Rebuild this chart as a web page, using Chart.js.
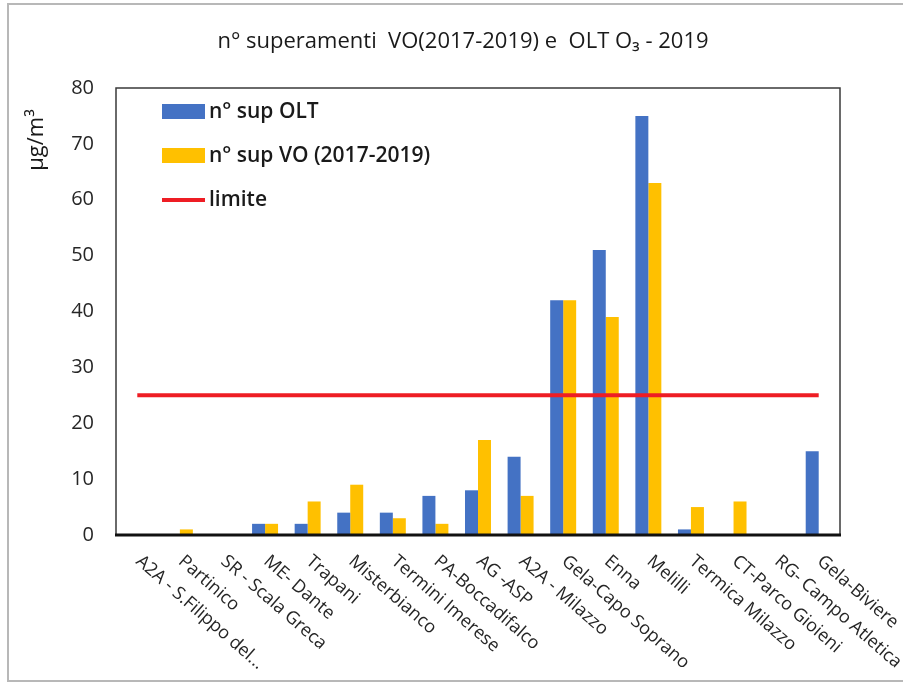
<!DOCTYPE html>
<html>
<head>
<meta charset="utf-8">
<title>n° superamenti O3 2019</title>
<script src="https://cdn.jsdelivr.net/npm/chart.js@4.4.1/dist/chart.umd.min.js"></script>
<style>
  body { margin: 0; background: #fff; }
  #wrap { position: relative; width: 903px; height: 686px; overflow: hidden; }
  #frame { position: absolute; left: 7px; top: 3px; width: 930px; height: 679px;
           border: 2px solid #b8b8b8; box-sizing: border-box; }
  canvas { position: absolute; left: 0; top: 0; }
</style>
</head>
<body>
<div id="wrap">
  <div id="frame"></div>
  <canvas id="chart" width="903" height="686"></canvas>
</div>
<script>
// stazioni e numero di superamenti
const stations = [
  'A2A - S.Filippo del...', 'Partinico', 'SR - Scala Greca', 'ME- Dante', 'Trapani',
  'Misterbianco', 'Termini Imerese', 'PA-Boccadifalco', 'AG -ASP', 'A2A - Milazzo',
  'Gela-Capo Soprano', 'Enna', 'Melilli', 'Termica Milazzo', 'CT-Parco Gioieni',
  'RG- Campo Atletica', 'Gela-Biviere'
];
const supOLT = [0, 0, 0, 2, 2, 4, 4, 7, 8, 14, 42, 51, 75, 1, 0, 0, 15];
const supVO  = [0, 1, 0, 2, 6, 9, 3, 2, 17, 7, 42, 39, 63, 5, 6, 0, 0];
const limite = [25, 25, 25, 25, 25, 25, 25, 25, 25, 25, 25, 25, 25, 25, 25, 25, 25];
const yMin = 0, yMax = 80, yStep = 10;

const chartTitle = 'n° superamenti  VO(2017-2019) e  OLT O₃ - 2019';
const yTitle = 'µg/m³';

const BLUE = '#4472C4';
const YELLOW = '#FFC000';
const RED = '#EE1D24';
const FONT = "'Open Sans', sans-serif";

// titolo, legenda, cornice e etichette ruotate disegnate a mano
const decorations = {
  id: 'decorations',
  afterDraw(chart) {
    const ctx = chart.ctx;
    const a = chart.chartArea;
    const x = chart.scales.x;
    ctx.save();

    // cornice area del grafico
    ctx.strokeStyle = '#3a3a3a';
    ctx.lineWidth = 1.5;
    ctx.beginPath();
    ctx.moveTo(a.left, a.bottom);
    ctx.lineTo(a.left, a.top);
    ctx.lineTo(a.right, a.top);
    ctx.lineTo(a.right, a.bottom);
    ctx.stroke();
    ctx.strokeStyle = '#111';
    ctx.lineWidth = 3;
    ctx.beginPath();
    ctx.moveTo(a.left - 1, a.bottom);
    ctx.lineTo(a.right + 1, a.bottom);
    ctx.stroke();

    // titolo
    ctx.fillStyle = '#1a1a1a';
    ctx.font = '22px ' + FONT;
    ctx.textAlign = 'center';
    ctx.textBaseline = 'middle';
    ctx.fillText(chartTitle, 463, 42);

    // titolo asse y
    ctx.save();
    ctx.translate(37, 140);
    ctx.rotate(-Math.PI / 2);
    ctx.font = '22px ' + FONT;
    ctx.fillText(yTitle, 0, 0);
    ctx.restore();

    // legenda
    ctx.font = '600 21px ' + FONT;
    ctx.textAlign = 'left';
    chart.data.datasets.forEach(ds => {
      const cy = 112 + ds.legendIndex * 44;
      if (ds.type === 'line') {
        ctx.strokeStyle = ds.borderColor;
        ctx.lineWidth = 4;
        ctx.beginPath();
        ctx.moveTo(162, cy);
        ctx.lineTo(205, cy);
        ctx.stroke();
      } else {
        ctx.fillStyle = ds.backgroundColor;
        ctx.fillRect(162, cy - 8, 43, 15);
      }
      ctx.fillStyle = '#1a1a1a';
      ctx.fillText(ds.label, 209, cy);
    });

    // etichette categorie ruotate
    ctx.font = '18px ' + FONT;
    ctx.fillStyle = '#262626';
    ctx.textBaseline = 'middle';
    chart.data.labels.forEach((lab, i) => {
      const px = x.getPixelForValue(i);
      ctx.save();
      ctx.translate(px + 1, a.bottom + 24);
      ctx.rotate(41 * Math.PI / 180);
      ctx.fillText(lab, 0, 0);
      ctx.restore();
    });

    ctx.restore();
  }
};

new Chart(document.getElementById('chart'), {
  data: {
    labels: stations,
    datasets: [
      { type: 'line', label: 'limite', data: limite, borderColor: RED, borderWidth: 4,
        pointRadius: 0, order: 0, legendIndex: 2 },
      { type: 'bar', label: 'n° sup OLT', data: supOLT, backgroundColor: BLUE,
        order: 1, legendIndex: 0 },
      { type: 'bar', label: 'n° sup VO (2017-2019)', data: supVO, backgroundColor: YELLOW,
        order: 1, legendIndex: 1 }
    ]
  },
  options: {
    responsive: false,
    animation: false,
    layout: { padding: { top: 88, right: 63, left: 0, bottom: 0 } },
    datasets: { bar: { categoryPercentage: 0.61, barPercentage: 1.0 } },
    plugins: {
      legend: { display: false },
      title: { display: false },
      tooltip: { enabled: false }
    },
    scales: {
      x: {
        grid: { display: false, drawTicks: false },
        border: { display: false },
        ticks: { display: false },
        afterFit: s => { s.height = 151; }
      },
      y: {
        min: yMin, max: yMax,
        grid: { display: false, drawTicks: false },
        border: { display: false },
        ticks: { stepSize: yStep, padding: 22, color: '#262626', font: { family: FONT, size: 20 } },
        afterFit: s => { s.width = 116; }
      }
    }
  },
  plugins: [decorations]
});
</script>
</body>
</html>
